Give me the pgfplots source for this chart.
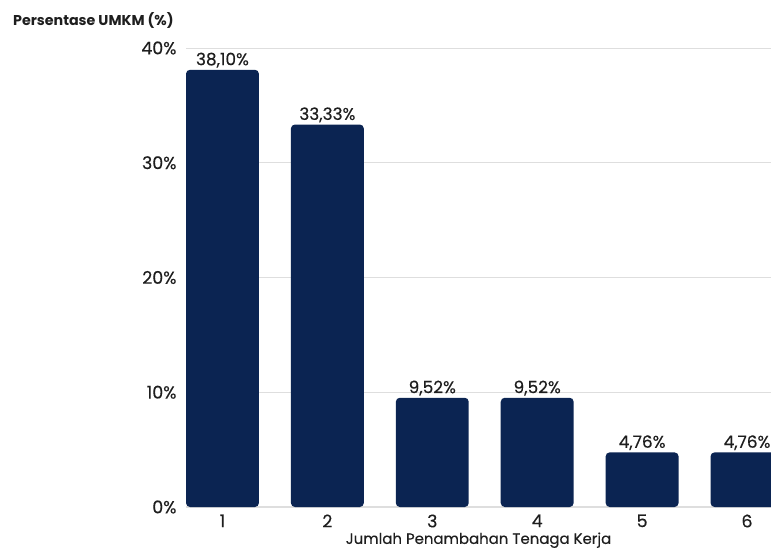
\documentclass[border=0pt]{standalone}
\usepackage{pgfplots}
\pgfplotsset{compat=1.18}
\usepackage{fontspec}
\setmainfont{Poppins}
\newfontfamily\medium[FakeBold=0.35]{Poppins}
\definecolor{navy}{RGB}{11,36,82}
\definecolor{txt}{RGB}{30,30,30}
\definecolor{gridc}{RGB}{222,222,222}
\begin{document}
\begin{tikzpicture}
\useasboundingbox (0,0) rectangle (771bp,549bp);
\node[anchor=west, font=\fontsize{14.3}{16}\selectfont\bfseries, text=txt, inner sep=0pt] at (13bp,529bp) {Persentase UMKM (\%)};
\begin{axis}[
  at={(186bp,42bp)}, anchor=south west,
  width=585bp, height=459bp, scale only axis,
  xmin=0.6524, xmax=6.2286, ymin=0, ymax=40,
  axis lines=left,
  y axis line style={draw=none},
  x axis line style={draw=gridc, line width=1.2pt, -},
  major tick length=0pt,
  xtick={1,2,3,4,5,6},
  ytick={0,10,20,30,40},
  yticklabel={\pgfmathprintnumber{\tick}\%},
  ymajorgrids, grid style={draw=gridc, line width=0.8pt},
  /pgf/number format/assume math mode=true,
  tick label style={font=\medium\fontsize{17.5}{19}\selectfont, text=txt},
  yticklabel style={xshift=-6bp},
  xticklabel style={yshift=-4bp},
  xlabel={Jumlah Penambahan Tenaga Kerja},
  xlabel style={font=\medium\fontsize{15}{16}\selectfont, text=txt, at={(ticklabel* cs:0.5)}, anchor=north, yshift=-22bp},
  ybar, bar width=0.695,
  nodes near coords={\pgfmathprintnumber[fixed,fixed zerofill,precision=2,use comma]{\pgfplotspointmeta}\%},
  nodes near coords style={font=\medium\fontsize{17}{19}\selectfont, text=txt, anchor=south, inner sep=2bp},
]
\addplot[fill=navy, draw=none, rounded corners=4bp] coordinates {
  (1,38.10) (2,33.33) (3,9.52) (4,9.52) (5,4.76) (6,4.76)
};
\end{axis}
\end{tikzpicture}
\end{document}
